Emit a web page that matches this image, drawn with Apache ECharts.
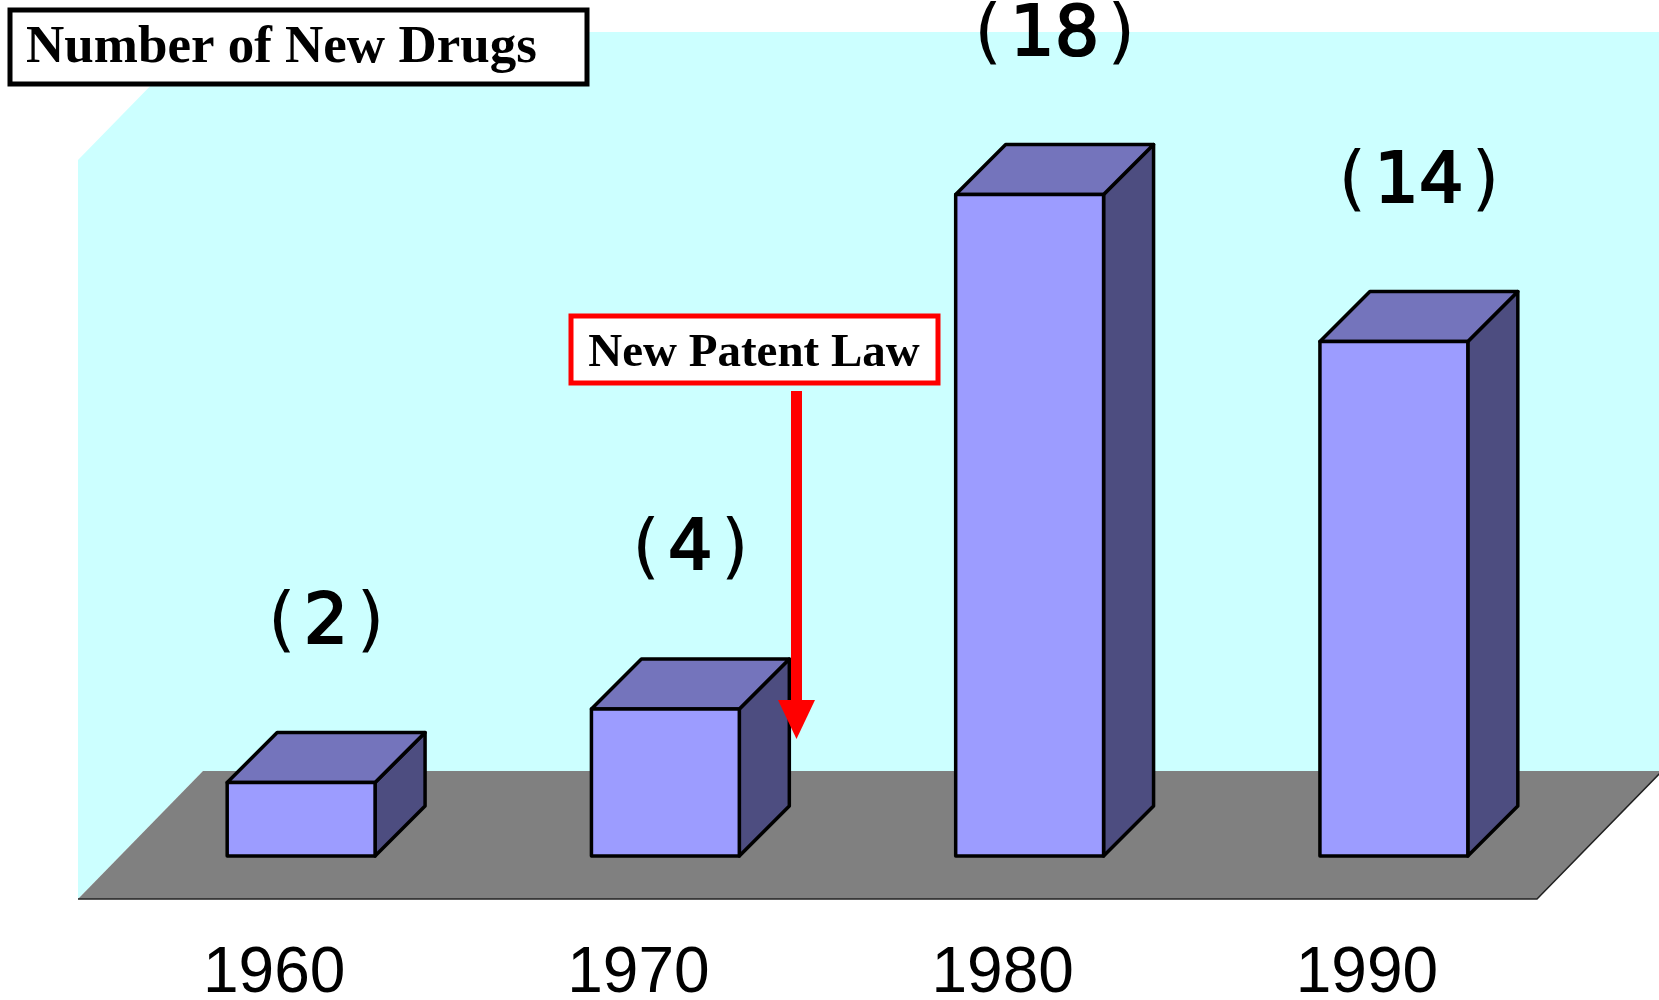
<!DOCTYPE html>
<html>
<head>
<meta charset="utf-8">
<script src="https://cdn.jsdelivr.net/npm/echarts@6/dist/echarts.min.js"></script>
<style>
  html, body { margin: 0; padding: 0; width: 100%; height: 100%; overflow: hidden; background: #fff; }
  #chart { width: 1659px; height: 1000px; }
</style>
</head>
<body>
<div id="chart"></div>
<script>
// data
var years = ['1960', '1970', '1980', '1990'];
var newDrugs = [2, 4, 18, 14];

var DEPTH = 50; // bar depth offset in px

var chart = echarts.init(document.getElementById('chart'));

function renderBackground(params, api) {
  var cs = params.coordSys;
  var bottom = cs.y + cs.height;
  var frontY = bottom + 43, backY = bottom - 85;
  var leftX = cs.x - 41, backLeftX = leftX + 125;
  var topY = cs.y - 89;
  var rightFront = cs.x + cs.width - 39;
  var W = api.getWidth() + 5;
  return {
    type: 'group',
    children: [
      { type: 'polygon', shape: { points: [[leftX, topY + 128], [backLeftX, topY], [W, topY], [W, backY], [backLeftX, backY], [leftX, frontY]] },
        style: { fill: '#CCFFFF' } },
      { type: 'polygon', shape: { points: [[leftX, frontY], [backLeftX, backY], [rightFront + 125, backY], [rightFront, frontY]] },
        style: { fill: '#808080' } },
      { type: 'polyline', shape: { points: [[leftX, frontY], [rightFront, frontY], [rightFront + 125, backY]] },
        style: { stroke: '#222', lineWidth: 1.5, fill: null } }
    ]
  };
}

function renderBar(params, api) {
  var idx = api.value(0);
  var val = api.value(1);
  var top = api.coord([idx, val]);
  var base = api.coord([idx, 0]);
  var w = api.size([1, 0])[0] * 0.406;
  var x0 = top[0] - w / 2, x1 = top[0] + w / 2;
  var y0 = top[1], y1 = base[1];
  var d = DEPTH;
  var line = { stroke: '#000', lineWidth: 3.5, lineJoin: 'round' };
  return {
    type: 'group',
    children: [
      { type: 'polygon', shape: { points: [[x1, y0], [x1 + d, y0 - d], [x1 + d, y1 - d], [x1, y1]] },
        style: Object.assign({ fill: '#4D4D80' }, line) },
      { type: 'polygon', shape: { points: [[x0, y0], [x0 + d, y0 - d], [x1 + d, y0 - d], [x1, y0]] },
        style: Object.assign({ fill: '#7474BC' }, line) },
      { type: 'rect', shape: { x: x0, y: y0, width: w, height: y1 - y0 },
        style: Object.assign({ fill: '#9C9CFF' }, line) },
      { type: 'text', x: top[0] + d / 2, y: y0 - 158,
        style: { text: '{p|(}{d|' + val + '}{p|)}', fill: '#000', align: 'center', verticalAlign: 'middle',
                 rich: {
                   p: { fontSize: 72, fontFamily: 'DejaVu Sans', fontWeight: 'normal', padding: [0, 8, 0, 8] },
                   d: { fontSize: 70, fontFamily: 'DejaVu Sans', fontWeight: 'normal',
                        stroke: '#000', lineWidth: 2.2 }
                 } } }
    ]
  };
}

chart.setOption({
  animation: false,
  grid: { left: 119, right: 83, top: 121, bottom: 144, outerBoundsMode: 'none' },
  xAxis: {
    type: 'category',
    data: years,
    axisLine: { show: false },
    axisTick: { show: false },
    axisLabel: { fontSize: 64, fontFamily: 'Liberation Sans', color: '#000', margin: 86,
                 padding: [0, 54, 0, 0] }
  },
  yAxis: { type: 'value', min: 0, max: 20, show: false, splitLine: { show: false } },
  series: [
    { type: 'custom', z: 1, silent: true, data: [[0, 0]], renderItem: renderBackground },
    { type: 'custom', z: 2, data: years.map(function (y, i) { return [i, newDrugs[i]]; }),
      encode: { x: 0, y: 1 }, renderItem: renderBar }
  ],
  graphic: [
    { type: 'rect', zlevel: 1, z: 100, shape: { x: 10, y: 10, width: 577, height: 74 },
      style: { fill: '#fff', stroke: '#000', lineWidth: 5 } },
    { type: 'text', zlevel: 1, z: 101, x: 26, y: 48, style: { text: 'Number of New Drugs', fontSize: 53, fontWeight: 'bold',
      fontFamily: 'Liberation Serif', fill: '#000', verticalAlign: 'middle' } },
    { type: 'rect', zlevel: 1, z: 100, shape: { x: 571, y: 316, width: 367, height: 67 },
      style: { fill: '#fff', stroke: '#FF0000', lineWidth: 5 } },
    { type: 'text', zlevel: 1, z: 101, x: 754, y: 354, style: { text: 'New Patent Law', fontSize: 47, fontWeight: 'bold',
      fontFamily: 'Liberation Serif', fill: '#000', align: 'center', verticalAlign: 'middle' } },
    { type: 'rect', zlevel: 1, z: 100, shape: { x: 791, y: 391, width: 11, height: 312 }, style: { fill: '#FF0000' } },
    { type: 'polygon', zlevel: 1, z: 100, shape: { points: [[778, 700], [815, 700], [796.5, 739]] }, style: { fill: '#FF0000' } }
  ]
});
</script>
</body>
</html>
